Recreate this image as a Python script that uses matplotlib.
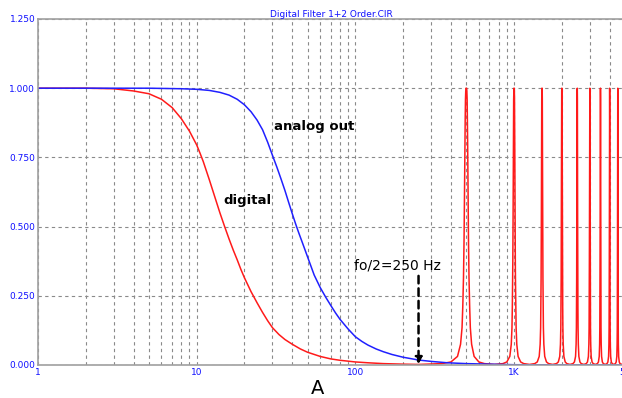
import numpy as np
import matplotlib
matplotlib.use("Agg")
import matplotlib.pyplot as plt
from matplotlib.ticker import FixedLocator, NullFormatter

# analog output
analog_f = [1, 5, 8, 10, 12, 14, 16, 18, 20, 22, 24, 26, 28, 30, 32, 34, 36, 38,
            40, 42, 44, 46, 48, 50, 55, 60, 65, 70, 75, 80, 90, 100, 110, 120,
            135, 150, 170, 200, 250, 300, 380, 500, 700, 1000, 5000]
analog_v = [1.0, 1.0, 0.998, 0.996, 0.992, 0.985, 0.975, 0.96, 0.94, 0.915,
            0.885, 0.85, 0.805, 0.758, 0.715, 0.672, 0.63, 0.587, 0.547, 0.51,
            0.477, 0.447, 0.418, 0.39, 0.325, 0.28, 0.245, 0.215, 0.188, 0.165,
            0.13, 0.102, 0.085, 0.072, 0.058, 0.048, 0.038, 0.028, 0.018, 0.013,
            0.008, 0.005, 0.003, 0.001, 0.0]

# digital output, baseband part
digital_f = [1, 2, 3, 4, 5, 6, 7, 8, 9, 10, 10.5, 11, 12, 13, 14, 15, 16, 17, 18,
             19, 20, 22, 24, 26, 28, 30, 33, 36, 40, 45, 50, 55, 60, 70, 80, 100,
             120, 150, 200, 250]
digital_v = [1.0, 1.0, 0.998, 0.99, 0.98, 0.96, 0.93, 0.89, 0.845, 0.795, 0.765,
             0.735, 0.67, 0.607, 0.55, 0.50, 0.455, 0.415, 0.38, 0.345, 0.315,
             0.265, 0.225, 0.19, 0.16, 0.135, 0.11, 0.092, 0.075, 0.058, 0.046,
             0.038, 0.031, 0.022, 0.017, 0.011, 0.008, 0.005, 0.003, 0.002]

# image spikes of the digital response (profile read around the 500 Hz spike)
spike_centers = [500, 1000, 1500, 2000, 2500, 3000, 3500, 4000, 4500, 5000]
spike_offsets = [0, 2, 4, 6, 8, 10, 12, 14, 16, 18, 20, 25, 30, 40, 60, 100, 150, 249]
spike_levels = [1.0, 1.0, 0.99, 0.96, 0.89, 0.795, 0.67, 0.55, 0.455, 0.38, 0.315,
                0.21, 0.135, 0.075, 0.031, 0.011, 0.005, 0.002]

x_ticks = [1, 10, 100, 1000, 5000]
x_labels = ["1", "10", "100", "1K", "5K"]
y_ticks = [0.0, 0.25, 0.5, 0.75, 1.0, 1.25]
y_labels = ["0.000", "0.250", "0.500", "0.750", "1.000", "1.250"]

# build the full digital curve
red_f = list(digital_f)
red_v = list(digital_v)
for c in spike_centers:
    for off, lev in zip(spike_offsets[::-1], spike_levels[::-1]):
        red_f.append(c - off)
        red_v.append(lev)
    for off, lev in zip(spike_offsets[1:], spike_levels[1:]):
        red_f.append(c + off)
        red_v.append(lev)

fig = plt.figure(figsize=(6.22, 3.98), dpi=100)
ax = fig.add_axes([38 / 622, 33 / 398, 587 / 622, 346 / 398])

ax.plot(red_f, red_v, color="#ff1a1a", lw=1.1)
ax.plot(analog_f, analog_v, color="#2020ff", lw=1.1)

ax.set_xscale("log")
ax.set_xlim(1, 5000)
ax.set_ylim(0, 1.25)

ax.xaxis.set_major_locator(FixedLocator(x_ticks))
ax.set_xticklabels(x_labels)
minor = [m * 10 ** d for d in range(0, 4) for m in range(2, 10)]
ax.xaxis.set_minor_locator(FixedLocator(minor))
ax.xaxis.set_minor_formatter(NullFormatter())
ax.set_yticks(y_ticks)
ax.set_yticklabels(y_labels)

ax.tick_params(which="both", length=0, labelsize=6.5, labelcolor="#1010ff", pad=2)
ax.grid(True, which="both", axis="x", color="#8a8a8a", lw=0.8, linestyle=(0, (3, 3)))
ax.grid(True, which="major", axis="y", color="#8a8a8a", lw=0.8, linestyle=(0, (3, 3)))
ax.set_axisbelow(True)

for side in ["left", "bottom", "top"]:
    ax.spines[side].set_color("#a0a0a0")
    ax.spines[side].set_linewidth(1.2)
ax.spines["right"].set_visible(False)

ax.text(54.8, 0.86, "analog out", fontsize=9.5, fontweight="bold", ha="center", va="center")
ax.text(20.9, 0.596, "digital", fontsize=9.5, fontweight="bold", ha="center", va="center")
ax.text(183, 0.358, "fo/2=250 Hz", fontsize=10, ha="center", va="center")
ax.annotate("", xy=(250, -0.008), xytext=(250, 0.332),
            arrowprops=dict(arrowstyle="-|>", color="black", lw=1.8,
                            linestyle=(0, (3, 2)), mutation_scale=10),
            annotation_clip=False)

fig.text(0.532, 0.957, "Digital Filter 1+2 Order.CIR", fontsize=6.5, color="#1010ff",
         ha="center", va="baseline")
fig.text(0.511, 0.047, "A", fontsize=14, ha="center", va="top")

fig.savefig("out.png", dpi=100)
